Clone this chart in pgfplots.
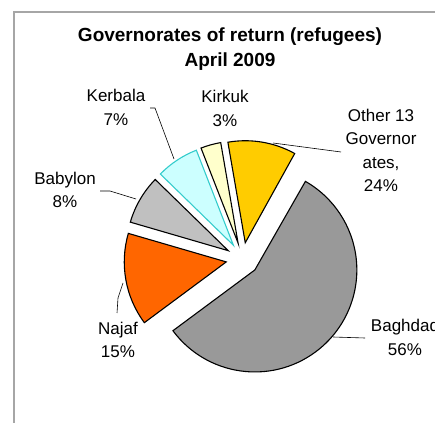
\documentclass[border=0pt]{standalone}
\usepackage{fontspec}
\setmainfont{Liberation Sans}
\usepackage{pgfplots}
\usepackage{pgfplotstable}
\pgfplotsset{compat=1.18}
\definecolor{bag}{HTML}{999999}
\definecolor{naj}{HTML}{FF6600}
\definecolor{bab}{HTML}{C0C0C0}
\definecolor{ker}{HTML}{CCFFFF}
\definecolor{kerline}{HTML}{33CCCC}
\definecolor{kir}{HTML}{FFFFCC}
\definecolor{oth}{HTML}{FFCC00}
\definecolor{frame}{HTML}{A6A6A6}

% share of the circle taken by each slice (as drawn), counter-clockwise from 61 deg
\pgfplotstableread{
label   value fillc drawc
Other   10.8  oth   black
Kirkuk  3.2   kir   black
Kerbala 6.8   ker   kerline
Babylon 7.8   bab   black
Najaf   14.7  naj   black
Baghdad 56.7  bag   black
}\piedata

\newcommand{\lbl}{\fontsize{17}{23.5}\selectfont}

\begin{document}
\begin{tikzpicture}
\useasboundingbox (0,0) rectangle (435pt,422pt);
\clip (0,0) rectangle (435pt,422pt);
\begin{axis}[
    at={(0,0)}, anchor=origin,
    x=1pt, y=1pt,
    xmin=0, xmax=435, ymin=0, ymax=422,
    hide axis, clip=false,
  ]
  \def\cum{0}
  \pgfplotsforeachungrouped \i in {0,...,5}{
    \pgfplotstablegetelem{\i}{value}\of\piedata \let\v\pgfplotsretval
    \pgfplotstablegetelem{\i}{fillc}\of\piedata \let\fc\pgfplotsretval
    \pgfplotstablegetelem{\i}{drawc}\of\piedata \let\dc\pgfplotsretval
    \pgfmathsetmacro\a{61+3.6*\cum/1.002}
    \pgfmathsetmacro\b{61+3.6*(\cum+\v)/1.002}
    \pgfmathsetmacro\m{(\a+\b)/2}
    \pgfmathsetmacro\ox{242.5+16.5*cos(\m)}
    \pgfmathsetmacro\oy{163+16.5*sin(\m)}
    \edef\temp{\noexpand\filldraw[fill=\fc, draw=\dc, line width=1.1pt, line join=miter]
      (axis cs:\ox,\oy) -- ++(\a:102pt) arc[start angle=\a, end angle=\b, radius=102pt] -- cycle;}
    \temp
    \pgfmathsetmacro\cum{\cum+\v}
  }

  % leader lines
  \draw[line width=0.6pt] (axis cs:150,314) -- (axis cs:155,314) -- (axis cs:174,263);
  \draw[line width=0.6pt] (axis cs:100,231) -- (axis cs:110,231) -- (axis cs:136,223);
  \draw[line width=0.6pt] (axis cs:341,270) -- (axis cs:273,279);
  \draw[line width=0.6pt] (axis cs:117,109) -- (axis cs:118,124) -- (axis cs:123,139);
  \draw[line width=0.6pt] (axis cs:333,85) -- (axis cs:365,84);

  % labels
  \node[align=center, font=\lbl] at (axis cs:116,314.5) {Kerbala\\7\%};
  \node[align=center, font=\lbl] at (axis cs:225,313.5) {Kirkuk\\3\%};
  \node[align=center, font=\lbl] at (axis cs:381,271.5) {Other 13\\Governor\\ates,\\24\%};
  \node[align=center, font=\lbl] at (axis cs:65,232) {Babylon\\8\%};
  \node[align=center, font=\lbl] at (axis cs:118,82) {Najaf\\15\%};
  \node[align=center, font=\lbl] at (axis cs:405,84.5) {Baghdad\\56\%};

  % title
  \node[align=center, font={\fontsize{19}{25}\selectfont\bfseries}] at (axis cs:230,372.5)
    {Governorates of return (refugees)\\April 2009};

  % chart area frame
  \draw[frame, line width=1.2pt] (axis cs:14,-5) -- (axis cs:14,410) -- (axis cs:445,410);
\end{axis}
\end{tikzpicture}
\end{document}
